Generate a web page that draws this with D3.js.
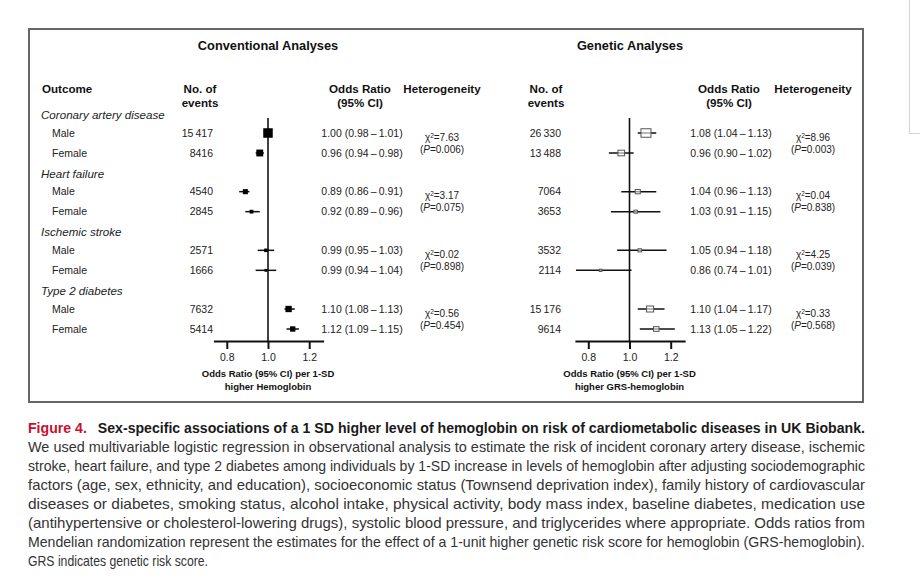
<!DOCTYPE html>
<html>
<head>
<meta charset="utf-8">
<script src="https://cdn.jsdelivr.net/npm/d3@7"></script>
<style>
  html, body { margin: 0; padding: 0; background: #fff; }
  svg { display: block; }
  text { font-family: "Liberation Sans", Arial, Helvetica, sans-serif; }
</style>
</head>
<body>
<svg id="chart" width="920" height="586"></svg>
<script>
// ---------------- DATA ----------------
const outcomes = ["Coronary artery disease", "Heart failure", "Ischemic stroke", "Type 2 diabetes"];
const sexes = ["Male", "Female"];

const convEvents = [15417, 8416, 4540, 2845, 2571, 1666, 7632, 5414];
const convOR = [1.00, 0.96, 0.89, 0.92, 0.99, 0.99, 1.10, 1.12];
const convLo = [0.98, 0.94, 0.86, 0.89, 0.95, 0.94, 1.08, 1.09];
const convHi = [1.01, 0.98, 0.91, 0.96, 1.03, 1.04, 1.13, 1.15];
const convChi = ["7.63", "3.17", "0.02", "0.56"];
const convP = ["0.006", "0.075", "0.898", "0.454"];

const genEvents = [26330, 13488, 7064, 3653, 3532, 2114, 15176, 9614];
const genOR = [1.08, 0.96, 1.04, 1.03, 1.05, 0.86, 1.10, 1.13];
const genLo = [1.04, 0.90, 0.96, 0.91, 0.94, 0.74, 1.04, 1.05];
const genHi = [1.13, 1.02, 1.13, 1.15, 1.18, 1.01, 1.17, 1.22];
const genChi = ["8.96", "0.04", "4.25", "0.33"];
const genP = ["0.003", "0.838", "0.039", "0.568"];

const tickValues = [0.8, 1.0, 1.2];
const axisTitles = [["Odds Ratio (95% CI) per 1-SD", "higher Hemoglobin"],
                    ["Odds Ratio (95% CI) per 1-SD", "higher GRS-hemoglobin"]];
const panelTitles = ["Conventional Analyses", "Genetic Analyses"];

const captionLines = [
  "We used multivariable logistic regression in observational analysis to estimate the risk of incident coronary artery disease, ischemic",
  "stroke, heart failure, and type 2 diabetes among individuals by 1-SD increase in levels of hemoglobin after adjusting sociodemographic",
  "factors (age, sex, ethnicity, and education), socioeconomic status (Townsend deprivation index), family history of cardiovascular",
  "diseases or diabetes, smoking status, alcohol intake, physical activity, body mass index, baseline diabetes, medication use",
  "(antihypertensive or cholesterol-lowering drugs), systolic blood pressure, and triglycerides where appropriate. Odds ratios from",
  "Mendelian randomization represent the estimates for the effect of a 1-unit higher genetic risk score for hemoglobin (GRS-hemoglobin).",
  "GRS indicates genetic risk score."
];
const captionLabel = "Figure 4.";
const captionTitle = "Sex-specific associations of a 1 SD higher level of hemoglobin on risk of cardiometabolic diseases in UK Biobank.";

// ---------------- LAYOUT ----------------
const svg = d3.select("#chart");

// faint page edge artefact at top right
svg.append("path").attr("d", "M909.5,0 V133.5 H920")
  .attr("fill", "none").attr("stroke", "#d4d4d4").attr("stroke-width", 1);

// frame
svg.append("rect").attr("x", 29).attr("y", 29).attr("width", 834).attr("height", 373)
  .attr("fill", "none").attr("stroke", "#666").attr("stroke-width", 2);

const groupY = d3.scalePoint().domain(outcomes).range([133, 309]);
const rowY = i => groupY(outcomes[Math.floor(i / 2)]) + (i % 2) * 20;

const axisY = 341;
const refTop = 118;

function fmtEvents(n) {
  return n >= 10000 ? d3.format(",")(n).replace(",", "\u2009") : String(n);
}
function fmtOR(o, l, h) {
  return o.toFixed(2) + " (" + l.toFixed(2) + "\u2009\u2013\u2009" + h.toFixed(2) + ")";
}

const textCol = "#222";
const headSize = 11.6;

// left labels
const lab = svg.append("g");
lab.append("text").attr("x", 42).attr("y", 93).attr("font-weight", "bold")
  .attr("font-size", headSize).attr("fill", "#111").text("Outcome");
outcomes.forEach(o => {
  lab.append("text").attr("x", 41).attr("y", groupY(o) - 18).attr("dy", "0.35em")
    .attr("font-style", "italic").attr("font-size", 11.6).attr("fill", textCol).text(o);
});
d3.range(8).forEach(i => {
  lab.append("text").attr("x", 52).attr("y", rowY(i)).attr("dy", "0.35em")
    .attr("font-size", 10.5).attr("fill", textCol).text(sexes[i % 2]);
});

const panels = [
  { title: panelTitles[0], titleX: 268, evRight: 213, evHead: 200, orX: 362, hetX: 442,
    refX: 268, events: convEvents, or: convOR, lo: convLo, hi: convHi, chi: convChi, p: convP,
    filled: true, maxSize: 9.5, axisT: axisTitles[0] },
  { title: panelTitles[1], titleX: 630, evRight: 561, evHead: 546, orX: 731, hetX: 813,
    refX: 629.5, events: genEvents, or: genOR, lo: genLo, hi: genHi, chi: genChi, p: genP,
    filled: false, maxSize: 10, axisT: axisTitles[1] }
];

panels.forEach(P => {
  const g = svg.append("g");
  const pxPerUnit = 206;
  const dom = [0.735, 1.27];
  const x = d3.scaleLinear().domain(dom)
    .range(dom.map(v => P.refX + (v - 1) * pxPerUnit));

  g.append("text").attr("x", P.titleX).attr("y", 49.5).attr("text-anchor", "middle")
    .attr("font-weight", "bold").attr("font-size", 12.8).attr("fill", "#111").text(P.title);

  // column headers
  [["No. of", "events", P.evHead], ["Odds Ratio", "(95% CI)", P.orX - 2]].forEach(h => {
    g.append("text").attr("x", h[2]).attr("y", 93).attr("text-anchor", "middle")
      .attr("font-weight", "bold").attr("font-size", headSize).attr("fill", "#111").text(h[0]);
    g.append("text").attr("x", h[2]).attr("y", 107).attr("text-anchor", "middle")
      .attr("font-weight", "bold").attr("font-size", headSize).attr("fill", "#111").text(h[1]);
  });
  g.append("text").attr("x", P.hetX).attr("y", 93).attr("text-anchor", "middle")
    .attr("font-weight", "bold").attr("font-size", headSize).attr("fill", "#111").text("Heterogeneity");

  // rows
  d3.range(8).forEach(i => {
    g.append("text").attr("x", P.evRight).attr("y", rowY(i)).attr("dy", "0.35em")
      .attr("text-anchor", "end").attr("font-size", 10.5).attr("fill", textCol)
      .text(fmtEvents(P.events[i]));
    g.append("text").attr("x", P.orX).attr("y", rowY(i)).attr("dy", "0.35em")
      .attr("text-anchor", "middle").attr("font-size", 10.5).attr("fill", textCol)
      .text(fmtOR(P.or[i], P.lo[i], P.hi[i]));
  });

  // heterogeneity
  outcomes.forEach((o, k) => {
    const y0 = groupY(o);
    const t1 = g.append("text").attr("x", P.hetX).attr("y", y0 + 4).attr("dy", "0.35em")
      .attr("text-anchor", "middle").attr("font-size", 10).attr("fill", textCol);
    t1.append("tspan").text("\u03C7");
    t1.append("tspan").attr("font-size", 6.5).attr("dy", "-0.45em").text("2");
    t1.append("tspan").attr("dy", "0.3em").text("=" + P.chi[k]);
    const t2 = g.append("text").attr("x", P.hetX).attr("y", y0 + 16).attr("dy", "0.35em")
      .attr("text-anchor", "middle").attr("font-size", 10).attr("fill", textCol);
    t2.append("tspan").text("(");
    t2.append("tspan").attr("font-style", "italic").text("P");
    t2.append("tspan").text("=" + P.p[k] + ")");
  });

  // reference line
  g.append("line").attr("x1", x(1)).attr("x2", x(1)).attr("y1", refTop).attr("y2", axisY)
    .attr("stroke", "#111").attr("stroke-width", 1.6);

  // axis
  const ax = g.append("g").attr("transform", `translate(0,${axisY})`)
    .call(d3.axisBottom(x).tickValues(tickValues).tickFormat(d3.format(".1f"))
      .tickSize(8).tickSizeOuter(0).tickPadding(5));
  ax.select(".domain").attr("stroke", "#111").attr("stroke-width", 2);
  ax.selectAll(".tick line").attr("stroke", "#111").attr("stroke-width", 2);
  ax.selectAll(".tick text").attr("font-size", 10.5).attr("fill", textCol)
    .attr("font-family", "Liberation Sans, Arial, sans-serif");

  g.append("text").attr("x", x(1)).attr("y", 377).attr("text-anchor", "middle")
    .attr("font-weight", "bold").attr("font-size", 9.5).attr("fill", "#111").text(P.axisT[0]);
  g.append("text").attr("x", x(1)).attr("y", 390).attr("text-anchor", "middle")
    .attr("font-weight", "bold").attr("font-size", 9.5).attr("fill", "#111").text(P.axisT[1]);

  // weights -> marker size (inverse of log CI width)
  const inv = d3.range(8).map(i => 1 / Math.log(P.hi[i] / P.lo[i]));
  const size = d3.scaleLinear().domain([0, d3.max(inv)]).range([0, P.maxSize]);

  d3.range(8).forEach(i => {
    const y = rowY(i);
    g.append("line").attr("x1", x(P.lo[i])).attr("x2", x(P.hi[i])).attr("y1", y).attr("y2", y)
      .attr("stroke", "#111").attr("stroke-width", 1.5);
    const s = size(inv[i]);
    if (P.filled) {
      g.append("rect").attr("x", x(P.or[i]) - s / 2).attr("y", y - s / 2)
        .attr("width", s).attr("height", s).attr("fill", "#000");
    } else {
      const w = Math.max(s, 1.5), h = Math.max(s * 0.85, 1.5);
      g.append("rect").attr("x", x(P.or[i]) - w / 2).attr("y", y - h / 2)
        .attr("width", w).attr("height", h)
        .attr("fill", "#fff").attr("fill-opacity", 0.6)
        .attr("stroke", "#555").attr("stroke-width", 1);
    }
  });
});

// ---------------- CAPTION ----------------
const capFont = '"Liberation Sans Narrow", "Arial Narrow", "Liberation Sans", Arial, sans-serif';
const capLeft = 28, capRight = 865, capTop = 428, capStep = 19;
const capW = capRight - capLeft;
const capSize = 15;

const head = svg.append("text").attr("x", capLeft).attr("y", capTop).attr("dy", "0.35em")
  .attr("font-family", capFont).attr("font-size", capSize).attr("font-weight", "bold")
  .attr("textLength", capW).attr("lengthAdjust", "spacingAndGlyphs");
head.append("tspan").attr("fill", "#c8102e").text(captionLabel + "\u2002 ");
head.append("tspan").attr("fill", "#1a1a1a").text(captionTitle);

const bodyTexts = captionLines.map((line, i) =>
  svg.append("text").attr("x", capLeft).attr("y", capTop + capStep * (i + 1))
    .attr("dy", "0.35em").attr("font-family", capFont).attr("font-size", capSize)
    .attr("fill", "#333").text(line));
bodyTexts.forEach((t, i) => {
  if (i < captionLines.length - 1) {
    t.attr("textLength", capW).attr("lengthAdjust", "spacingAndGlyphs");
  } else {
    t.attr("textLength", 180).attr("lengthAdjust", "spacingAndGlyphs");
  }
});
</script>
</body>
</html>
